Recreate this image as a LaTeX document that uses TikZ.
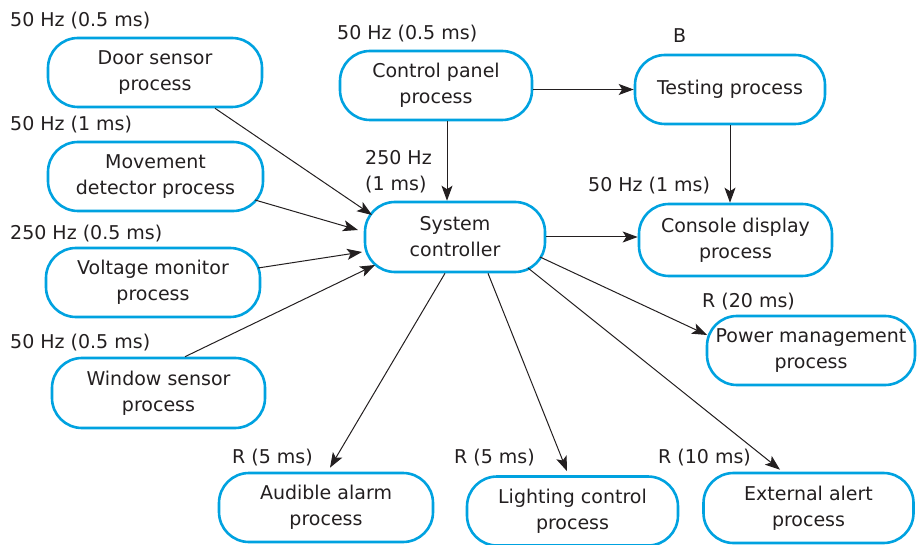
\documentclass[tikz,border=0pt]{standalone}
\usepackage{fontspec}
\setmainfont{DejaVu Sans}
\usepackage{xcolor}
\usepackage{tikz}
\usetikzlibrary{arrows.meta,positioning,calc}
\definecolor{procblue}{RGB}{0,162,224}
\definecolor{inkgrey}{RGB}{35,31,32}

\begin{document}
\begin{tikzpicture}[
  x=1pt, y=-1pt,
  font=\fontsize{19}{26}\selectfont,
  proc/.style={draw=procblue, line width=2.6pt, rounded corners=30pt, align=center, minimum height=69pt, inner sep=0pt, text=inkgrey},
  rate/.style={anchor=base west, inner sep=0pt, text=inkgrey, align=left},
  flow/.style={-{Stealth[length=15pt,width=11pt,inset=3.5pt]}, line width=1pt, draw=inkgrey}
]
\useasboundingbox (0,0) rectangle (918,545);

% sensor processes
\node[proc, minimum width=214pt] (door) at (155,72.5) {Door sensor\\process};
\node[proc, minimum width=215pt] (move) at (155.5,176.5) {Movement\\detector process};
\node[proc, minimum width=214pt] (volt) at (153,282.5) {Voltage monitor\\process};
\node[proc, minimum width=213pt, minimum height=70pt] (win) at (158.5,393) {Window sensor\\process};

% control and display
\node[proc, minimum width=192pt] (panel) at (436,85.5) {Control panel\\process};
\node[proc, minimum width=190pt] (test) at (730,89.5) {Testing process};
\node[proc, minimum width=180pt, minimum height=70pt] (sys) at (455,237) {System\\controller};
\node[proc, minimum width=193pt, minimum height=72pt] (con) at (735.5,240) {Console display\\process};
\node[proc, minimum width=208pt] (power) at (811,350.5) {Power management\\process};

% actuators
\node[proc, minimum width=214pt] (alarm) at (326,507.5) {Audible alarm\\process};
\node[proc, minimum width=211pt] (light) at (572.5,511) {Lighting control\\process};
\node[proc, minimum width=210pt, minimum height=70pt] (ext) at (808.5,508) {External alert\\process};

% rates
\node[rate] (rdoor) at (10,27) {50 Hz (0.5 ms)};
\node[rate] (rmove) at (10,131) {50 Hz (1 ms)};
\node[rate] (rvolt) at (10,240) {250 Hz (0.5 ms)};
\node[rate] (rwin) at (10,348) {50 Hz (0.5 ms)};
\node[rate] (rpanel) at (337,40) {50 Hz (0.5 ms)};
\node[rate] (rtest) at (673,43) {B};
\node[rate] (rsys) at (365,191) {250 Hz\\(1 ms)};
\node[rate] (rcon) at (588,192) {50 Hz (1 ms)};
\node[rate] (rpower) at (702,308) {R (20 ms)};
\node[rate] (ralarm) at (232,463) {R (5 ms)};
\node[rate] (rlight) at (454,463) {R (5 ms)};
\node[rate] (rext) at (658,463) {R (10 ms)};

\draw[flow] ([xshift=60pt]door.south) -- ([shift={(-83,-22)}]sys.center);
\draw[flow] ([shift={(99.5,23.5)}]move.center) -- ([shift={(-97,-7)}]sys.center);
\draw[flow] ([shift={(105,-14.5)}]volt.center) -- ([shift={(-93,15)}]sys.center);
\draw[flow] ([xshift=26.5pt]win.north) -- ([shift={(-80,28)}]sys.center);
\draw[flow] ([xshift=11pt]panel.south) -- ([xshift=11pt]panel.south |- sys.north);
\draw[flow] (panel.east |- test.west) -- (test.west);
\draw[flow] (test.south) -- (test.south |- con.north);
\draw[flow] (sys.east) -- (sys.east -| con.west);
\draw[flow] ([shift={(85,20)}]sys.center) -- ([shift={(-104,-15.5)}]power.center);
\draw[flow] ([xshift=-10pt]sys.south) -- ([shift={(4,-4)}]alarm.north);
\draw[flow] ([xshift=33pt]sys.south) -- ([shift={(-5.5,-4)}]light.north);
\draw[flow] ([shift={(73,31)}]sys.center) -- ([shift={(-28.5,-2)}]ext.north);
\end{tikzpicture}
\end{document}
